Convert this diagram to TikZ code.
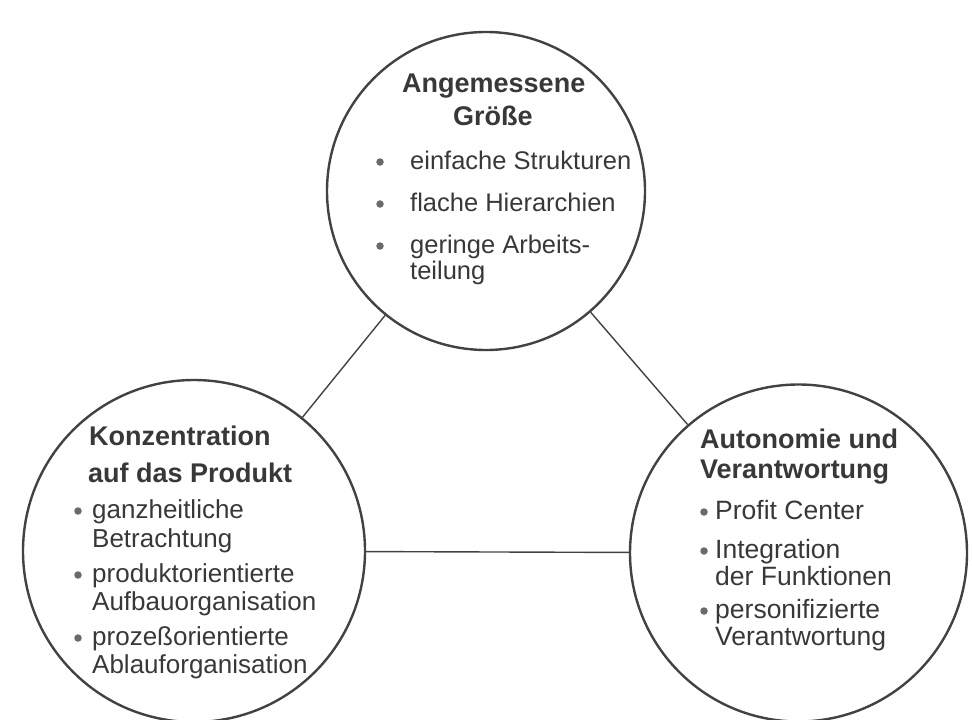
\documentclass[tikz,border=0pt]{standalone}
\usepackage{fontspec}
\setmainfont{Liberation Sans}
\definecolor{ink}{HTML}{383838}
\definecolor{rim}{HTML}{424242}
\definecolor{dot}{HTML}{6A6A6A}
\begin{document}
\begin{tikzpicture}[x=1pt,y=-1pt,
  ring/.style={circle, draw=rim, line width=2.4pt, inner sep=0pt},
  link/.style={draw=rim, line width=1.4pt},
  head/.style={anchor=base west, inner sep=0pt, text=ink, font=\fontsize{27}{30}\selectfont\bfseries},
  item/.style={anchor=base west, inner sep=0pt, text=ink, font=\fontsize{25.5}{28}\selectfont},
  leftitem/.style={item, font=\fontsize{26}{29}\selectfont},
  wideitem/.style={item, font=\fontsize{26.5}{29}\selectfont},
  bullet/.style={circle, fill=dot, inner sep=0pt, minimum size=7.5pt}]
\useasboundingbox (0,0) rectangle (972,720);

% the three circles
\node[ring, minimum size=318pt] (size) at (486,191) {};
\node[ring, minimum size=342pt] (prod) at (194,551) {};
\node[ring, minimum size=337pt] (auto) at (798.5,553) {};

% connectors between the circles
\draw[link] (size) -- (prod);
\draw[link] (size) -- (auto);
\draw[link] (prod) -- (auto);

% top circle
\node[head] (s1) at (402,92) {Angemessene};
\node[head] (s2) at (453,125) {Größe};
\node[bullet] (sb1) at (380,162) {};
\node[item] (s3) at (410,169) {einfache Strukturen};
\node[bullet] (sb2) at (380,204) {};
\node[item] (s4) at (410,211) {flache Hierarchien};
\node[bullet] (sb3) at (380,246) {};
\node[item] (s5) at (410,253) {geringe Arbeits-};
\node[item] (s6) at (410,279) {teilung};

% left circle
\node[head] (p1) at (89,445) {Konzentration};
\node[head] (p2) at (88,482) {auf das Produkt};
\node[bullet] (pb1) at (78,511) {};
\node[leftitem] (p3) at (92,518) {ganzheitliche};
\node[leftitem] (p4) at (92,547) {Betrachtung};
\node[bullet] (pb2) at (78,575) {};
\node[leftitem] (p5) at (92,582) {produktorientierte};
\node[leftitem] (p6) at (92,610) {Aufbauorganisation};
\node[bullet] (pb3) at (78,638) {};
\node[leftitem] (p7) at (92,645) {prozeßorientierte};
\node[leftitem] (p8) at (92,673) {Ablauforganisation};

% right circle
\node[head] (a1) at (700,448) {Autonomie und};
\node[head] (a2) at (700,478) {Verantwortung};
\node[bullet] (ab1) at (704,512) {};
\node[wideitem] (a3) at (715,519) {Profit Center};
\node[bullet] (ab2) at (704,551) {};
\node[wideitem] (a4) at (715,558) {Integration};
\node[wideitem] (a5) at (715,585) {der Funktionen};
\node[bullet] (ab3) at (704,611) {};
\node[wideitem] (a6) at (715,618) {personifizierte};
\node[wideitem] (a7) at (715,645) {Verantwortung};
\end{tikzpicture}
\end{document}
